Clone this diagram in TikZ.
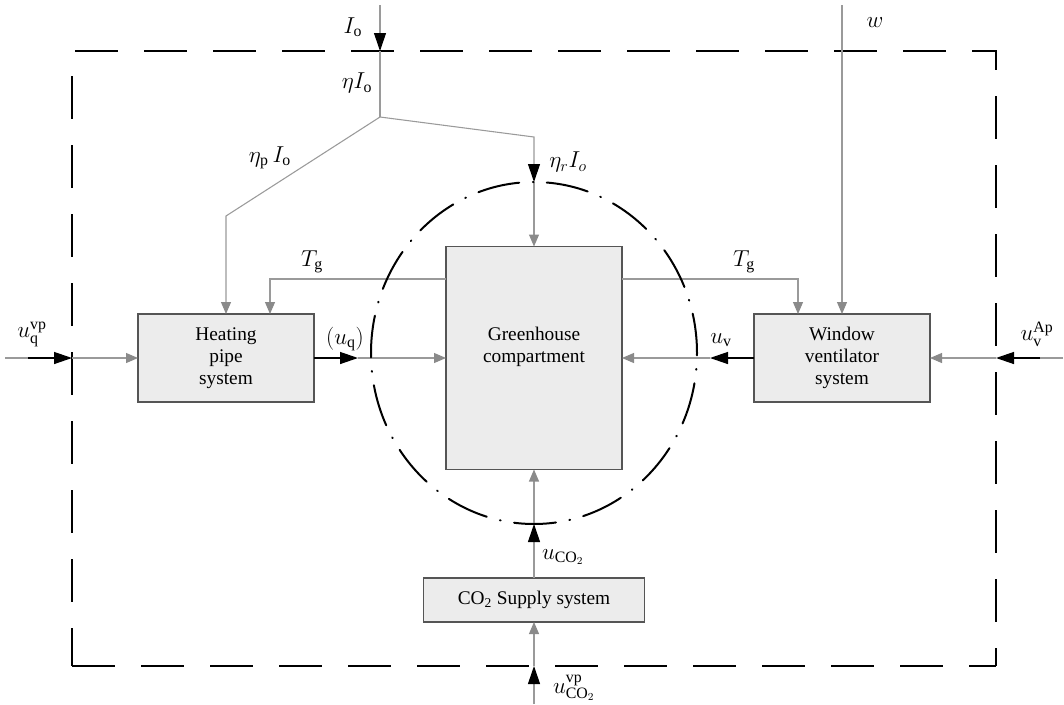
\documentclass[tikz,border=0pt]{standalone}
\usepackage{fontspec}
\setmainfont{Liberation Serif}
\usetikzlibrary{arrows.meta}
\definecolor{lgray}{HTML}{9A9A9A}
\definecolor{agray}{HTML}{8A8A8A}
\definecolor{boxfill}{HTML}{ECECEC}
\definecolor{boxdraw}{HTML}{555555}
\begin{document}
\begin{tikzpicture}[x=0.75pt,y=-0.75pt,
  box/.style={draw=boxdraw, fill=boxfill, line width=0.9pt, outer sep=0pt, inner sep=0pt, align=center, font=\fontsize{14.5}{16.5}\selectfont},
  gline/.style={draw=lgray, line width=0.8pt},
  garrow/.style={gline, -{Triangle[length=9pt,width=7.5pt,color=agray]}},
  barrow/.style={-{Triangle[length=13.5pt,width=9pt,color=black]}},
  bline/.style={draw=black, line width=1pt},
  lab/.style={font=\fontsize{17}{20}\selectfont, inner sep=0pt},
  bound/.style={line width=1.5pt, dash pattern=on 32.25pt off 19.5pt},
  ]
\useasboundingbox (0,0) rectangle (1064,704);

% boundary
\draw[bound, dash phase=49.5pt] (72,51) -- (996,51) -- (996,666);
\draw[bound, dash phase=33pt] (72,51) -- (72,666);
\draw[bound, dash phase=0pt] (72,666) -- (996,666);

% boxes
\node[box, minimum width=132pt, minimum height=66pt] (hp) at (226,358) {Heating\\pipe\\system};
\node[box, minimum width=132pt, minimum height=66pt] (wv) at (842,358) {Window\\ventilator\\system};
\node[box, minimum width=132pt, minimum height=167.25pt] (gh) at (534,358) {};
\node[align=center, font=\fontsize{14.5}{16.5}\selectfont] (ght) at (534,347) {Greenhouse\\compartment};
\node[box, minimum width=165.75pt, minimum height=33pt] (co) at (534,600) {CO$_\mathrm{2}$ Supply system};

% coordinates
\coordinate (ioT) at (380,5);
\coordinate (ioB) at (380,51);
\coordinate (J) at (380,117);
\coordinate (Jr) at (534,137);
\coordinate (cT) at (534,182);
\coordinate (Jl) at (226,216);
\coordinate (tgL) at (270,279);
\coordinate (tgR) at (798,279);
\coordinate (wT) at (842,5);
\coordinate (qin) at (5,358);
\coordinate (qb) at (28,358);
\coordinate (qd) at (72,358);
\coordinate (vin) at (1063,358);
\coordinate (vb) at (1040,358);
\coordinate (vd) at (996,358);
\coordinate (cL) at (358,358);
\coordinate (cR) at (710,358);
\coordinate (cB) at (534,524);
\coordinate (cbot) at (534,704);
\coordinate (cbd) at (534,666);

% connectors
\draw[gline, barrow] (ioT) -- (ioB);
\draw[gline] (ioB) -- (J);
\draw[gline, barrow] (J) -- (Jr) -- (cT);
\draw[garrow] (cT) -- (cT |- gh.north);
\draw[garrow] (J) -- (Jl) -- (Jl |- hp.north);
\draw[garrow] (gh.north west |- tgL) -- (tgL) -- (tgL |- hp.north);
\draw[garrow] (gh.north east |- tgR) -- (tgR) -- (tgR |- wv.north);
\draw[garrow] (wT) -- (wT |- wv.north);
\draw[gline] (qin) -- (qb);
\draw[bline, barrow] (qb) -- (qd);
\draw[garrow] (qd) -- (hp.west);
\draw[gline] (vin) -- (vb);
\draw[bline, barrow] (vb) -- (vd);
\draw[garrow] (vd) -- (wv.east);
\draw[bline, barrow] (hp.east) -- (cL);
\draw[garrow] (cL) -- (gh.west);
\draw[bline, barrow] (wv.west) -- (cR);
\draw[garrow] (cR) -- (gh.east);
\draw[gline, barrow] (co.north) -- (cB);
\draw[garrow] (cB) -- (gh.south);
\draw[gline, barrow] (cbot) -- (cbd);
\draw[garrow] (cbd) -- (co.south);

% dash-dot boundary of compartment
\draw[line width=1.5pt, line cap=round, dash pattern=on 31.5pt off 10.2pt on 0.6pt off 10.2pt, dash phase=41.4pt]
  (534,182) arc[start angle=90, end angle=450, x radius=122.25pt, y radius=128.25pt];

% labels
\node[lab] (lIo) at (353,27) {$I_\mathrm{o}$};
\node[lab] (leta) at (357,83) {$\eta I_\mathrm{o}$};
\node[lab] (letap) at (270,158) {$\eta_\mathrm{p}\, I_\mathrm{o}$};
\node[lab] (letar) at (568,162) {$\eta_r I_o$};
\node[lab] (ltgl) at (312,262) {$T_\mathrm{g}$};
\node[lab] (ltgr) at (744,262) {$T_\mathrm{g}$};
\node[lab] (luq) at (345,339) {$\left(u_\mathrm{q}\right)$};
\node[lab] (luv) at (721,340) {$u_\mathrm{v}$};
\node[lab] (luqvp) at (32,334) {$u_\mathrm{q}^\mathrm{vp}$};
\node[lab] (luvap) at (1037,334) {$u_\mathrm{v}^\mathrm{Ap}$};
\node[lab] (luco) at (563,557) {$u_{\mathrm{CO}_2}$};
\node[lab] (lucovp) at (574,688) {$u_{\mathrm{CO}_2}^\mathrm{vp}$};
\node[lab] (lw) at (875,23) {$w$};
\end{tikzpicture}
\end{document}
